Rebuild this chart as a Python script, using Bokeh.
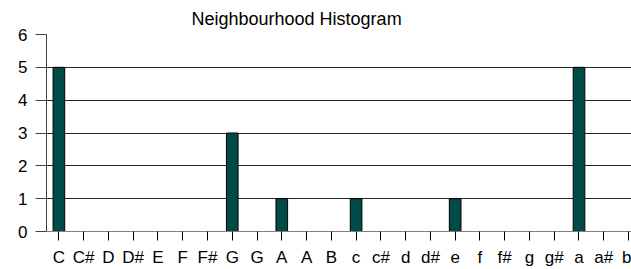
from bokeh.plotting import figure
from bokeh.models import Range1d, FixedTicker, ColumnDataSource
from bokeh.embed import file_html
from bokeh.resources import INLINE

notes = ["C", "C#", "D", "D#", "E", "F", "F#", "G", "G", "A", "A", "B",
         "c", "c#", "d", "d#", "e", "f", "f#", "g", "g#", "a", "a#", "b"]
counts = [5, 0, 0, 0, 0, 0, 0, 3, 0, 1, 0, 0, 1, 0, 0, 0, 1, 0, 0, 0, 0, 5, 0, 0]
y_ticks = [0, 1, 2, 3, 4, 5, 6]
title_text = "Neighbourhood  Histogram"

positions = list(range(len(notes)))
src = ColumnDataSource(dict(x=positions, top=counts))

FONT = "Liberation Sans"

p = figure(width=631, height=269, output_backend="svg", toolbar_location=None,
           x_range=Range1d(-0.5, 23.12), y_range=Range1d(0, 6),
           min_border_left=46, min_border_right=0, min_border_top=0,
           min_border_bottom=38, title=title_text)
p.outline_line_color = None
p.background_fill_color = "white"
p.border_fill_color = "white"

p.title.text_font = FONT
p.title.text_font_size = "18px"
p.title.text_font_style = "normal"
p.title.text_color = "#000000"
p.title.align = "left"
p.title.offset = 145
p.title.standoff = 12

p.vbar(x="x", top="top", bottom=0, width=0.47, source=src,
       fill_color="#004B47", line_color="#000000", line_width=1)

# x axis
p.xaxis.ticker = FixedTicker(ticks=positions)
p.xaxis.major_label_overrides = {i: n for i, n in enumerate(notes)}
p.xaxis.major_tick_in = 0
p.xaxis.major_tick_out = 9
p.xaxis.minor_tick_line_color = None
p.xaxis.axis_line_color = "#808080"
p.xaxis.major_tick_line_color = "#000000"
p.xaxis.major_label_text_font = FONT
p.xaxis.major_label_text_font_size = "17px"
p.xaxis.major_label_text_color = "#000000"
p.xaxis.major_label_standoff = 7
p.xgrid.grid_line_color = None

# y axis
p.yaxis.ticker = FixedTicker(ticks=y_ticks)
p.yaxis.major_tick_in = 0
p.yaxis.major_tick_out = 11
p.yaxis.minor_tick_line_color = None
p.yaxis.axis_line_color = "#404040"
p.yaxis.major_tick_line_color = "#404040"
p.yaxis.major_label_text_font = FONT
p.yaxis.major_label_text_font_size = "17px"
p.yaxis.major_label_text_color = "#000000"
p.yaxis.major_label_standoff = 8
p.ygrid.grid_line_color = "#000000"
p.ygrid.grid_line_alpha = 0.85

open("out.html", "w").write(file_html(p, INLINE))
